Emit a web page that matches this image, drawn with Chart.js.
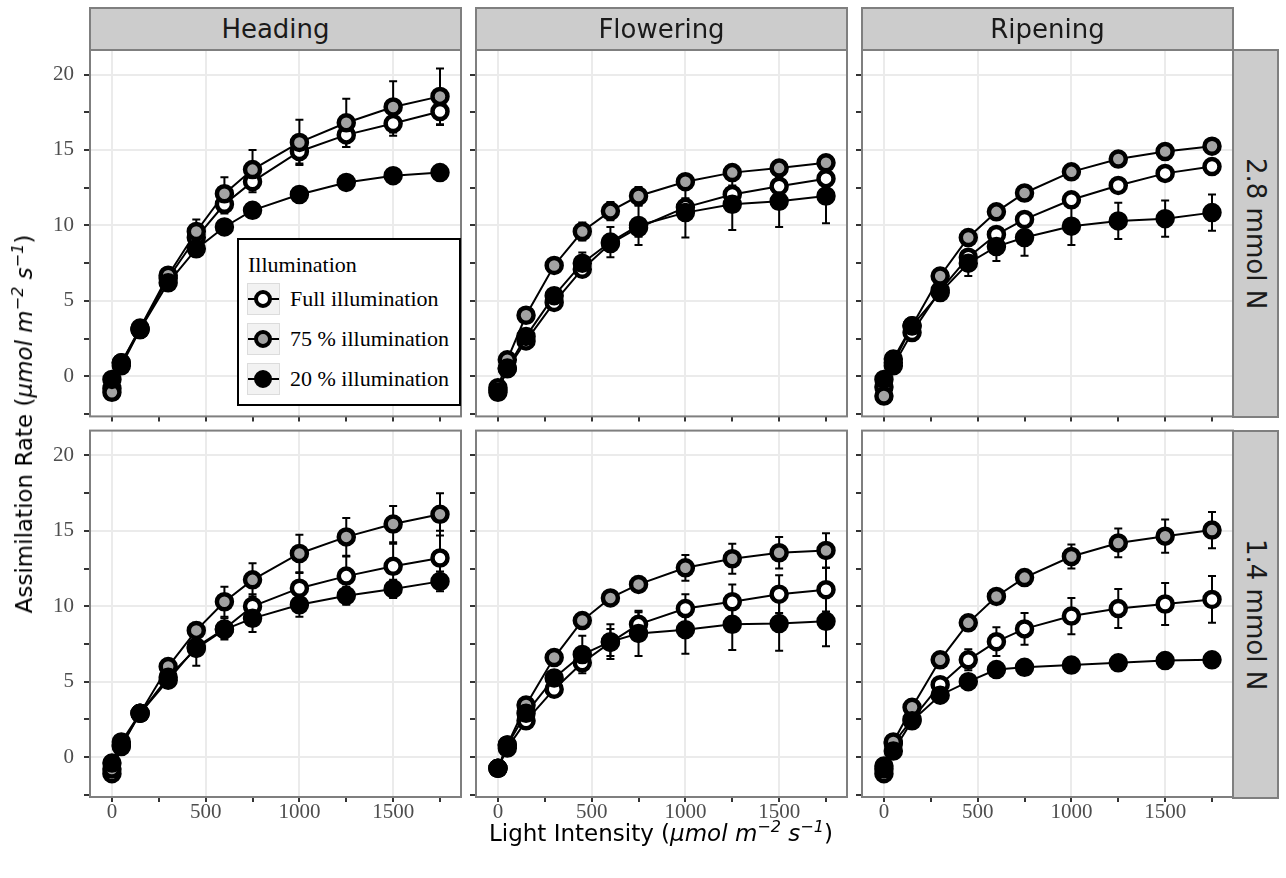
<!DOCTYPE html>
<html>
<head>
<meta charset="utf-8">
<script src="https://cdn.jsdelivr.net/npm/chart.js@4.4.1/dist/chart.umd.min.js"></script>
<style>
  body { margin: 0; background: #fff; width: 1286px; height: 878px; position: relative; overflow: hidden; font-family: "DejaVu Sans", sans-serif; }
  canvas { position: absolute; }
  .strip { position: absolute; background: #cccccc; border: 2px solid #7f7f7f; box-sizing: border-box; color: #1a1a1a; font-size: 26px; display: flex; align-items: center; justify-content: center; white-space: nowrap; }
  .strip.side { writing-mode: vertical-rl; }
  .axtitle { position: absolute; font-size: 23px; color: #000; white-space: nowrap; transform: translate(-50%, -50%); }
  .axtitle sup { font-size: 0.7em; line-height: 0; }
  #legend { position: absolute; left: 237px; top: 238px; width: 224px; height: 168px; border: 2px solid #000; box-sizing: border-box; background: #fff; font-family: "Liberation Serif", serif; font-size: 22px; color: #000; }
  #legend .ttl { position: absolute; left: 9px; top: 12px; }
  #legend .key { position: absolute; left: 8px; width: 33px; height: 32px; background: #f2f2f2; border: 1px solid #dcdcdc; box-sizing: border-box; }
  #legend .key .ln { position: absolute; left: 0; right: 0; top: 14px; height: 2px; background: #000; }
  #legend .key .pt { position: absolute; left: 6px; top: 6px; width: 10px; height: 10px; border: 4px solid #000; border-radius: 50%; }
  #legend .lab { position: absolute; left: 51px; line-height: 32px; white-space: nowrap; }
</style>
</head>
<body>
<script>
// light steps (µmol m-2 s-1)
const lightLevels = [0, 50, 150, 300, 450, 600, 750, 1000, 1250, 1500, 1750];
const xTicks = [0, 250, 500, 750, 1000, 1250, 1500, 1750];
const xLabelTicks = [0, 500, 1000, 1500];
const yTicks = [-2.5, 0, 2.5, 5, 7.5, 10, 12.5, 15, 17.5, 20];
const yLabelTicks = [0, 5, 10, 15, 20];

const stages = ['Heading', 'Flowering', 'Ripening'];
const nitrogen = ['2.8 mmol N', '1.4 mmol N'];
const seriesNames = ['Full illumination', '75 % illumination', '20 % illumination'];
const seriesFills = ['#ffffff', '#a3a3a3', '#000000'];

// 2.8 mmol N
const heading28Full   = [-0.8, 0.7, 3.1, 6.5, 9.2, 11.4, 12.9, 14.9, 16.0, 16.75, 17.55];
const heading28FullE  = [0.2, 0.2, 0.3, 0.4, 0.5, 0.6, 0.7, 0.8, 0.8, 0.8, 0.9];
const heading2875     = [-1.05, 0.9, 3.2, 6.7, 9.6, 12.1, 13.7, 15.5, 16.8, 17.85, 18.55];
const heading2875E    = [0.2, 0.2, 0.3, 0.4, 0.8, 1.1, 1.3, 1.5, 1.6, 1.7, 1.85];
const heading2820     = [-0.2, 0.9, 3.1, 6.2, 8.45, 9.9, 11.0, 12.05, 12.85, 13.3, 13.5];
const heading2820E    = [0.2, 0.2, 0.2, 0.3, 0.3, 0.3, 0.3, 0.3, 0.3, 0.3, 0.3];

const flowering28Full  = [-0.9, 0.5, 2.35, 4.9, 7.1, 8.8, 9.85, 11.2, 12.05, 12.6, 13.1];
const flowering28FullE = [0.2, 0.2, 0.3, 0.4, 0.5, 0.5, 0.6, 0.6, 0.6, 0.6, 0.6];
const flowering2875    = [-0.75, 1.1, 4.05, 7.35, 9.6, 10.95, 11.95, 12.9, 13.5, 13.8, 14.15];
const flowering2875E   = [0.2, 0.2, 0.3, 0.5, 0.6, 0.6, 0.6, 0.5, 0.5, 0.4, 0.4];
const flowering2820    = [-1.05, 0.55, 2.65, 5.35, 7.5, 8.9, 10.0, 10.85, 11.4, 11.6, 11.95];
const flowering2820E   = [0.2, 0.2, 0.3, 0.5, 0.7, 1.0, 1.3, 1.65, 1.7, 1.7, 1.8];

const ripening28Full  = [-0.7, 0.7, 2.9, 5.7, 7.9, 9.4, 10.4, 11.7, 12.65, 13.45, 13.9];
const ripening28FullE = [0.2, 0.2, 0.3, 0.4, 0.4, 0.4, 0.4, 0.4, 0.4, 0.4, 0.4];
const ripening2875    = [-1.3, 0.9, 3.35, 6.65, 9.2, 10.9, 12.15, 13.55, 14.4, 14.9, 15.25];
const ripening2875E   = [0.2, 0.2, 0.3, 0.3, 0.3, 0.3, 0.3, 0.3, 0.3, 0.3, 0.3];
const ripening2820    = [-0.2, 1.15, 3.35, 5.55, 7.5, 8.6, 9.2, 9.95, 10.3, 10.45, 10.85];
const ripening2820E   = [0.2, 0.2, 0.3, 0.5, 0.85, 0.95, 1.2, 1.25, 1.2, 1.2, 1.2];

// 1.4 mmol N
const heading14Full   = [-1.1, 0.7, 2.9, 5.1, 7.3, 8.5, 10.0, 11.2, 12.0, 12.65, 13.2];
const heading14FullE  = [0.2, 0.2, 0.3, 0.4, 0.6, 0.7, 0.8, 1.0, 1.3, 1.5, 1.8];
const heading1475     = [-0.8, 0.8, 2.9, 6.0, 8.4, 10.3, 11.75, 13.5, 14.6, 15.45, 16.1];
const heading1475E    = [0.2, 0.2, 0.3, 0.4, 0.5, 1.0, 1.1, 1.25, 1.25, 1.2, 1.4];
const heading1420     = [-0.4, 1.0, 2.9, 5.3, 7.2, 8.45, 9.2, 10.1, 10.7, 11.15, 11.65];
const heading1420E    = [0.2, 0.2, 0.3, 0.5, 1.15, 0.5, 0.9, 0.8, 0.6, 0.6, 0.65];

const flowering14Full  = [-0.75, 0.6, 2.4, 4.5, 6.25, 7.6, 8.8, 9.85, 10.3, 10.8, 11.1];
const flowering14FullE = [0.2, 0.2, 0.3, 0.4, 0.5, 0.9, 0.8, 0.95, 1.15, 1.25, 1.45];
const flowering1475    = [-0.75, 0.8, 3.45, 6.6, 9.05, 10.55, 11.45, 12.55, 13.15, 13.55, 13.7];
const flowering1475E   = [0.2, 0.2, 0.3, 0.3, 0.3, 0.3, 0.5, 0.85, 1.0, 1.05, 1.15];
const flowering1420    = [-0.75, 0.8, 2.9, 5.25, 6.8, 7.65, 8.2, 8.45, 8.8, 8.85, 9.0];
const flowering1420E   = [0.2, 0.2, 0.3, 0.4, 1.25, 1.15, 1.5, 1.6, 1.7, 1.8, 1.65];

const ripening14Full  = [-1.1, 0.9, 2.5, 4.8, 6.45, 7.65, 8.5, 9.35, 9.85, 10.15, 10.45];
const ripening14FullE = [0.2, 0.2, 0.3, 0.4, 0.7, 0.95, 1.05, 1.2, 1.3, 1.4, 1.55];
const ripening1475    = [-0.6, 1.0, 3.3, 6.45, 8.9, 10.65, 11.9, 13.3, 14.2, 14.65, 15.05];
const ripening1475E   = [0.2, 0.2, 0.3, 0.3, 0.3, 0.3, 0.4, 0.8, 0.95, 1.1, 1.2];
const ripening1420    = [-0.8, 0.4, 2.4, 4.1, 5.0, 5.8, 5.95, 6.1, 6.25, 6.4, 6.45];
const ripening1420E   = [0.2, 0.2, 0.2, 0.2, 0.2, 0.2, 0.2, 0.3, 0.3, 0.3, 0.4];

// panel grid [row][col] -> [[mean, err] per series]
const panels = [
  [
    [[heading28Full, heading28FullE], [heading2875, heading2875E], [heading2820, heading2820E]],
    [[flowering28Full, flowering28FullE], [flowering2875, flowering2875E], [flowering2820, flowering2820E]],
    [[ripening28Full, ripening28FullE], [ripening2875, ripening2875E], [ripening2820, ripening2820E]]
  ],
  [
    [[heading14Full, heading14FullE], [heading1475, heading1475E], [heading1420, heading1420E]],
    [[flowering14Full, flowering14FullE], [flowering1475, flowering1475E], [flowering1420, flowering1420E]],
    [[ripening14Full, ripening14FullE], [ripening1475, ripening1475E], [ripening1420, ripening1420E]]
  ]
];

/* --- page geometry --- */
const colLeft = [90, 476, 862];
const rowTop = [50, 431];
const panelW = 371, panelH = 367;
const axisW = [70, 12, 12];
const axisH = [10, 40];

// error bars under the points
const errorBars = {
  id: 'errorBars',
  beforeDatasetsDraw(chart) {
    const { ctx, scales: { x, y } } = chart;
    ctx.save();
    ctx.strokeStyle = '#000';
    ctx.lineWidth = 2;
    chart.data.datasets.forEach(ds => {
      if (!ds.errors) return;
      ds.data.forEach((p, i) => {
        const e = ds.errors[i];
        const px = x.getPixelForValue(p.x);
        const y1 = y.getPixelForValue(p.y + e);
        const y2 = y.getPixelForValue(p.y - e);
        ctx.beginPath();
        ctx.moveTo(px, y1); ctx.lineTo(px, y2);
        ctx.moveTo(px - 4, y1); ctx.lineTo(px + 4, y1);
        ctx.moveTo(px - 4, y2); ctx.lineTo(px + 4, y2);
        ctx.stroke();
      });
    });
    ctx.restore();
  }
};

const panelBorder = {
  id: 'panelBorder',
  afterDraw(chart) {
    const { ctx, chartArea: a } = chart;
    ctx.save();
    ctx.strokeStyle = '#7f7f7f';
    ctx.lineWidth = 2;
    ctx.strokeRect(a.left, a.top, a.right - a.left, a.bottom - a.top);
    ctx.restore();
  }
};

function panelConfig(r, c) {
  const showX = r === 1, showY = c === 0;
  const datasets = [];
  panels[r][c].forEach(([mean, err], i) => {
    const pts = lightLevels.map((lx, k) => ({ x: lx, y: mean[k] }));
    datasets.push({
      label: seriesNames[i] + ' line', data: pts, borderColor: '#000', borderWidth: 2,
      pointRadius: 0, fill: false, tension: 0, order: 10 + i
    });
    datasets.push({
      label: seriesNames[i], data: pts, showLine: false, errors: err,
      pointRadius: 7.5, pointBorderWidth: 4.5, pointBorderColor: '#000',
      pointBackgroundColor: seriesFills[i], order: 2 - i
    });
  });
  return {
    type: 'line',
    data: { datasets },
    options: {
      responsive: false, maintainAspectRatio: false, animation: false, devicePixelRatio: 1,
      layout: { padding: 2 },
      plugins: { legend: { display: false }, tooltip: { enabled: false } },
      scales: {
        x: {
          type: 'linear', min: -117, max: 1862,
          afterBuildTicks: s => { s.ticks = xTicks.map(v => ({ value: v })); },
          afterFit: s => { s.height = axisH[r]; },
          border: { display: false },
          grid: {
            color: ctx => (ctx.tick && xLabelTicks.includes(ctx.tick.value)) ? '#ebebeb' : 'rgba(0,0,0,0)',
            lineWidth: 2, tickColor: '#333', tickLength: 5, tickWidth: 2
          },
          ticks: {
            autoSkip: false, maxRotation: 0, padding: 0, color: '#4d4d4d',
            font: { family: 'Liberation Serif', size: 21, lineHeight: 1 },
            callback: v => (showX && xLabelTicks.includes(v)) ? String(v) : ''
          }
        },
        y: {
          type: 'linear', min: -2.65, max: 21.65,
          afterBuildTicks: s => { s.ticks = yTicks.map(v => ({ value: v })); },
          afterFit: s => { s.width = axisW[c]; },
          border: { display: false },
          grid: {
            color: ctx => (ctx.tick && yLabelTicks.includes(ctx.tick.value)) ? '#ebebeb' : 'rgba(0,0,0,0)',
            lineWidth: 2, tickColor: '#333', tickLength: 6, tickWidth: 2
          },
          ticks: {
            autoSkip: false, padding: 10, color: '#4d4d4d',
            font: { family: 'Liberation Serif', size: 21 },
            callback: v => (showY && yLabelTicks.includes(v)) ? String(v) : ''
          }
        }
      }
    },
    plugins: [errorBars, panelBorder]
  };
}

function makePanel(r, c) {
  // first pass: measure how much room the library keeps around the plot area
  const probe = document.createElement('canvas');
  probe.width = axisW[c] + panelW + 40;
  probe.height = panelH + axisH[r] + 40;
  document.body.appendChild(probe);
  const tmp = new Chart(probe.getContext('2d'), panelConfig(r, c));
  const a = tmp.chartArea;
  const w = probe.width - ((a.right - a.left) - panelW);
  const h = probe.height - ((a.bottom - a.top) - panelH);
  tmp.destroy();
  probe.remove();

  const cv = document.createElement('canvas');
  cv.width = w; cv.height = h;
  document.body.appendChild(cv);
  const chart = new Chart(cv.getContext('2d'), panelConfig(r, c));
  const b = chart.chartArea;
  cv.style.left = (colLeft[c] - b.left) + 'px';
  cv.style.top = (rowTop[r] - b.top) + 'px';
}

for (let r = 0; r < 2; r++) for (let c = 0; c < 3; c++) makePanel(r, c);

// facet strips
stages.forEach((s, c) => {
  const d = document.createElement('div');
  d.className = 'strip';
  d.textContent = s;
  d.style.left = (colLeft[c] - 1) + 'px';
  d.style.top = '7px';
  d.style.width = (panelW + 2) + 'px';
  d.style.height = (rowTop[0] + 1 - 7) + 'px';
  document.body.appendChild(d);
});
nitrogen.forEach((s, r) => {
  const d = document.createElement('div');
  d.className = 'strip side';
  d.textContent = s;
  d.style.left = (colLeft[2] + panelW - 1) + 'px';
  d.style.top = (rowTop[r] - 1) + 'px';
  d.style.width = '47px';
  d.style.height = (panelH + 2) + 'px';
  document.body.appendChild(d);
});

// axis titles
const unit = '(<i>\u03bcmol m<sup>\u22122</sup> s<sup>\u22121</sup></i>)';
const yt = document.createElement('div');
yt.className = 'axtitle';
yt.innerHTML = 'Assimilation Rate ' + unit;
yt.style.left = '24px'; yt.style.top = '424px';
yt.style.transform = 'translate(-50%, -50%) rotate(-90deg)';
document.body.appendChild(yt);
const xt = document.createElement('div');
xt.className = 'axtitle';
xt.innerHTML = 'Light Intensity ' + unit;
xt.style.left = '661px'; xt.style.top = '833px';
document.body.appendChild(xt);

// legend
const lg = document.createElement('div');
lg.id = 'legend';
let html = '<div class="ttl">Illumination</div>';
seriesNames.forEach((n, i) => {
  const top = 43 + i * 40;
  html += `<div class="key" style="top:${top}px"><div class="ln"></div><div class="pt" style="background:${seriesFills[i]}"></div></div>`;
  html += `<div class="lab" style="top:${top}px">${n}</div>`;
});
lg.innerHTML = html;
document.body.appendChild(lg);
</script>
</body>
</html>
